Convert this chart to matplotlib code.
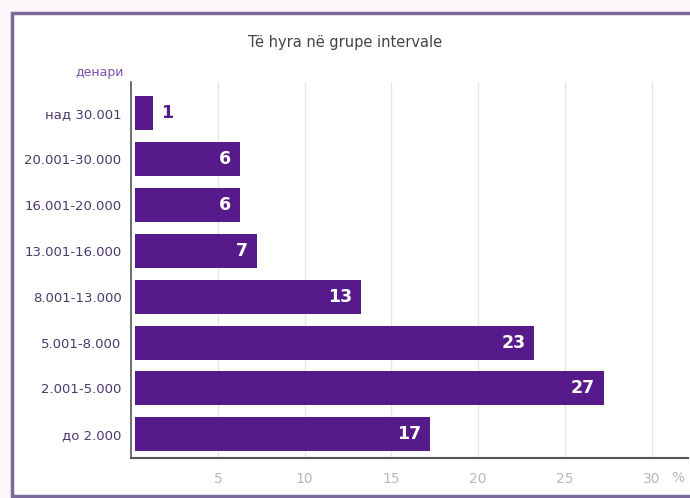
import matplotlib.pyplot as plt
from matplotlib.patches import Rectangle

# income groups (denars), bottom to top
categories = ['до 2.000', '2.001-5.000', '5.001-8.000', '8.001-13.000',
              '13.001-16.000', '16.001-20.000', '20.001-30.000', 'над 30.001']
shares = [17, 27, 23, 13, 7, 6, 6, 1]
xticks = [5, 10, 15, 20, 25, 30]

purple = '#561a8a'
plt.rcParams['font.family'] = ['Liberation Sans Narrow', 'DejaVu Sans']

fig = plt.figure(figsize=(6.9, 4.98), dpi=100)
fig.patch.set_facecolor('#fdf7fc')

# white panel with a purple frame
panel = Rectangle((0.017, 0.005), 1.2, 0.968, transform=fig.transFigure,
                  facecolor='white', edgecolor='#7b6a9c', linewidth=2.5, zorder=0)
fig.patches.append(panel)

ax = fig.add_axes([0.19, 0.08, 0.807, 0.755])
ax.set_facecolor('none')
ax.set_zorder(2)

y = list(range(len(categories)))
ax.barh(y, shares, height=0.74, left=0.25, color=purple, zorder=3)

for yi, v in zip(y, shares):
    end = 0.25 + v
    if v >= 5:
        ax.text(end - 0.5, yi, str(v), ha='right', va='center', color='white',
                fontsize=12.5, fontweight='bold', zorder=4)
    else:
        ax.text(end + 0.5, yi, str(v), ha='left', va='center', color=purple,
                fontsize=12.5, fontweight='bold', zorder=4)

ax.set_xlim(0, 32.1)
ax.set_ylim(-0.52, 7.68)
ax.set_yticks(y)
ax.set_yticklabels(categories, fontsize=9.5, color='#4a3a6a')
ax.set_xticks(xticks)
ax.set_xticklabels([str(t) for t in xticks], fontsize=10, color='#b8b8b8')
ax.tick_params(length=0, pad=7)
ax.tick_params(axis='x', pad=10)

ax.grid(axis='x', color='#e6e6e6', linewidth=1, zorder=0)
for s in ['top', 'right']:
    ax.spines[s].set_visible(False)
ax.spines['left'].set_color('#555555')
ax.spines['bottom'].set_color('#555555')
ax.spines['left'].set_linewidth(1.2)
ax.spines['bottom'].set_linewidth(1.5)

fig.text(0.982, 0.04, '%', fontsize=10, color='#b8b8b8', ha='center', va='center')
fig.text(0.5, 0.915, 'Të hyra në grupe intervale', fontsize=10.5,
         color='#444444', ha='center', va='center')
fig.text(0.145, 0.855, 'денари', fontsize=9, color='#7a50a8',
         ha='center', va='center')

fig.savefig('out.png', dpi=100, facecolor=fig.get_facecolor())
